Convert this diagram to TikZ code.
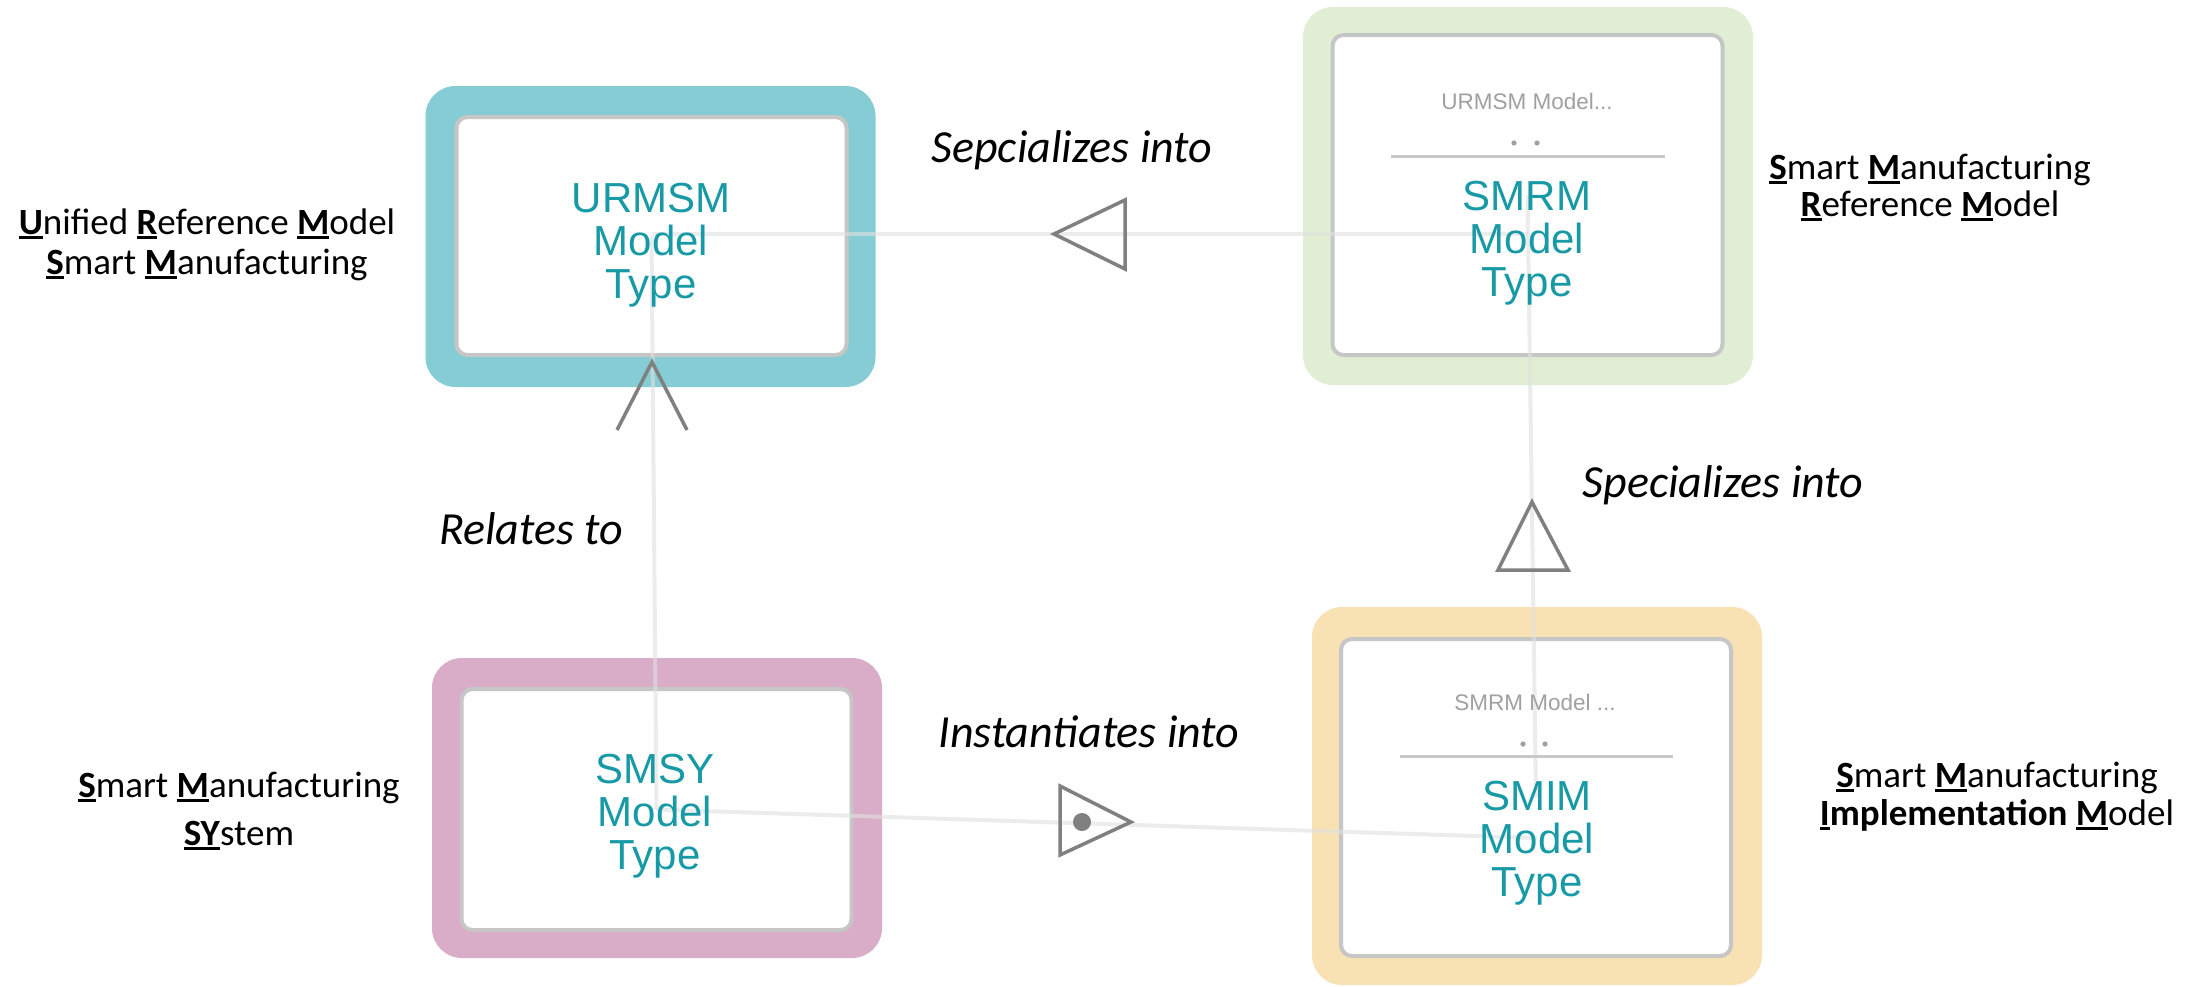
\documentclass[tikz,border=0pt]{standalone}
\usepackage{fontspec}
\setmainfont{Carlito}
\newfontfamily\boxfont{Liberation Sans}
\definecolor{tealout}{RGB}{133,204,212}
\definecolor{greenout}{RGB}{225,238,211}
\definecolor{orangeout}{RGB}{248,226,180}
\definecolor{pinkout}{RGB}{217,172,200}
\definecolor{innerline}{RGB}{198,198,198}
\definecolor{tealtext}{RGB}{24,154,166}
\definecolor{headgray}{RGB}{160,160,160}
\definecolor{linkgray}{RGB}{224,224,224}
\definecolor{markgray}{RGB}{128,128,128}
\definecolor{sepgray}{RGB}{200,200,200}
\newsavebox\ulbox
\newcommand\ulb[1]{\sbox\ulbox{\textbf{#1}}\rlap{\rule[-5pt]{\wd\ulbox}{3pt}}\usebox\ulbox}
\tikzset{
  outerbox/.style={rectangle, rounded corners=30pt, minimum width=450pt, inner sep=0pt},
  innerbox/.style={rectangle, rounded corners=11pt, fill=white, draw=innerline, line width=4pt, minimum width=390pt, inner sep=0pt},
  boxtext/.style={font=\boxfont\fontsize{42}{43}\selectfont, text=tealtext, anchor=base, inner sep=0pt},
  headtext/.style={font=\boxfont\fontsize{22.5}{24}\selectfont, text=headgray, anchor=base, inner sep=0pt},
  sidetext/.style={anchor=base, inner sep=0pt, text=black},
  rellabel/.style={font=\itshape\fontsize{46}{50}\selectfont, anchor=base, inner sep=0pt},
  link/.style={draw=linkgray, line width=4pt, opacity=0.6},
  headmark/.style={draw=markgray, line width=3.5pt, line join=miter},
  sepline/.style={draw=sepgray, line width=3pt},
  dotmark/.style={fill=headgray}
}
\begin{document}
\begin{tikzpicture}[x=1pt,y=-1pt]
\useasboundingbox (0,0) rectangle (2208,986);
\fill[white] (0,0) rectangle (2208,986);

% outer coloured frames
\node[outerbox, fill=tealout, minimum height=301pt] (urmsm-out) at (650.5,236.5) {};
\node[outerbox, fill=greenout, minimum height=378pt] (smrm-out) at (1528,196) {};
\node[outerbox, fill=orangeout, minimum height=378pt] (smim-out) at (1537,796) {};
\node[outerbox, fill=pinkout, minimum height=300pt] (smsy-out) at (657,808) {};

% inner white boxes
\node[innerbox, minimum height=238pt] (urmsm) at (651.5,236) {};
\node[innerbox, minimum height=320pt] (smrm) at (1527.5,195) {};
\node[innerbox, minimum height=317pt] (smim) at (1536,797.5) {};
\node[innerbox, minimum height=241pt] (smsy) at (656.5,809.5) {};

% connectors
\coordinate (spec1end) at (1527.5,234);
\coordinate (instend) at (1537,838);
\draw[link] (spec1end) -- (urmsm.center |- spec1end);
\draw[link] (smim.center) -- (smrm.center);
\draw[link] (smsy.center) -- (urmsm.center);
\draw[link] (smsy.center) -- (instend);

% compartment headers
\node[headtext] (smrmhead) at (1527,109) {URMSM Model...};
\fill[dotmark] (1514,143) circle (2.6pt) (1537,143) circle (2.6pt);
\draw[sepline] (1391,156) -- (1665,156);
\node[headtext] (smimhead) at (1535,710) {SMRM Model ...};
\fill[dotmark] (1523,744) circle (2.6pt) (1545,744) circle (2.6pt);
\draw[sepline] (1400,756) -- (1673,756);

% box texts
\node[boxtext] (urmsmtxt) at (651,212) {\begin{tabular}[t]{@{}c@{}}URMSM\\Model\\Type\end{tabular}};
\node[boxtext] (smrmtxt) at (1527,210) {\begin{tabular}[t]{@{}c@{}}SMRM\\Model\\Type\end{tabular}};
\node[boxtext] (smimtxt) at (1537,810) {\begin{tabular}[t]{@{}c@{}}SMIM\\Model\\Type\end{tabular}};
\node[boxtext] (smsytxt) at (655,783) {\begin{tabular}[t]{@{}c@{}}SMSY\\Model\\Type\end{tabular}};

% arrow heads
\draw[headmark] (617,430) -- (652,362) -- (687,430);
\draw[headmark] (1054,234) -- (1125,200) -- (1125,269) -- cycle;
\draw[headmark] (1532,502) -- (1568,570) -- (1498,570) -- cycle;
\draw[headmark] (1131,822) -- (1060,786) -- (1060,855) -- cycle;
\fill[markgray] (1082,822) circle (9pt);

% relation labels
\node[rellabel] (l1) at (1072,162) {Sepcializes into};
\node[rellabel] (l2) at (1723,497) {Specializes into};
\node[rellabel] (l3) at (531,544) {Relates to};
\node[rellabel] (l4) at (1089,747) {Instantiates into};

% side texts
\node[sidetext, font=\fontsize{37}{40}\selectfont] (s1) at (207,234)
  {\begin{tabular}[t]{@{}c@{}}\ulb{U}nified \ulb{R}eference \ulb{M}odel\\\ulb{S}mart \ulb{M}anufacturing\end{tabular}};
\node[sidetext, font=\fontsize{37}{48}\selectfont] (s2) at (239,797)
  {\begin{tabular}[t]{@{}c@{}}\ulb{S}mart \ulb{M}anufacturing\\\ulb{SY}stem\end{tabular}};
\node[sidetext, font=\fontsize{37}{37}\selectfont] (s3) at (1930,179)
  {\begin{tabular}[t]{@{}c@{}}\ulb{S}mart \ulb{M}anufacturing\\\ulb{R}eference \ulb{M}odel\end{tabular}};
\node[sidetext, font=\fontsize{37}{38}\selectfont] (s4) at (1997,787)
  {\begin{tabular}[t]{@{}c@{}}\ulb{S}mart \ulb{M}anufacturing\\\ulb{I}\textbf{mplementation} \ulb{M}odel\end{tabular}};
\end{tikzpicture}
\end{document}
